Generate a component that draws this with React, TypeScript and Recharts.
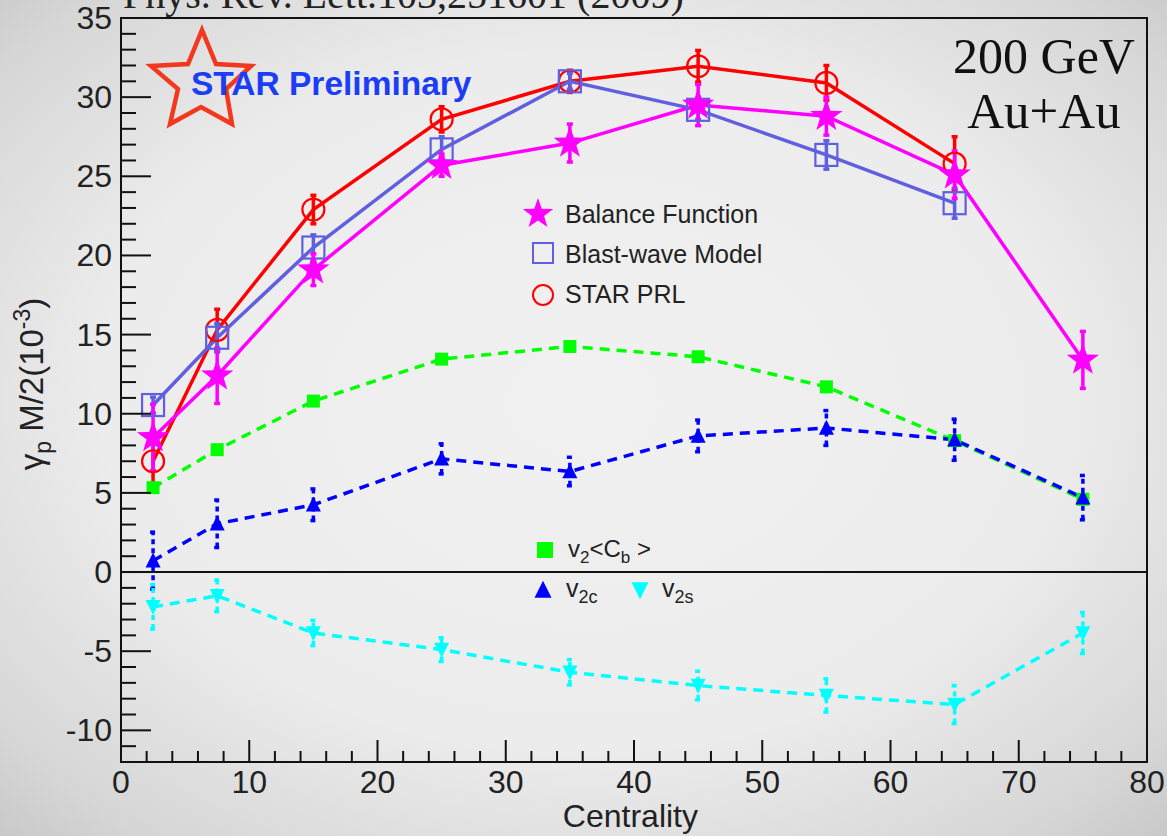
import React from 'react';
import {
  ComposedChart,
  Line,
  XAxis,
  YAxis,
  ErrorBar,
  ReferenceLine,
  ReferenceArea,
} from 'recharts';

// ---------------- data ----------------
const centrality = [2.5, 7.5, 15, 25, 35, 45, 55, 65, 75];

const starPrl = [7.0, 15.3, 22.9, 28.6, 31.0, 31.95, 30.9, 25.8];
const starPrlErr = [1.8, 1.3, 0.9, 0.8, 0.7, 1.0, 1.1, 1.7];

const blastWave = [10.55, 14.8, 20.5, 26.7, 31.0, 29.2, 26.35, 23.3];
const blastWaveErr = [0.5, 0.9, 0.8, 0.8, 0.5, 0.6, 0.9, 0.95];

const balanceFn = [8.5, 12.4, 19.1, 25.7, 27.1, 29.5, 28.8, 25.1, 13.4];
const balanceFnErr = [2.1, 1.75, 1.0, 0.7, 1.2, 1.3, 1.2, 1.5, 1.8];

const v2Cb = [5.33, 7.73, 10.8, 13.45, 14.25, 13.6, 11.7, 8.3, 4.6];

const v2c = [0.72, 3.05, 4.25, 7.15, 6.35, 8.6, 9.1, 8.36, 4.7];
const v2cErr = [1.8, 1.5, 1.0, 0.95, 0.9, 1.0, 1.1, 1.3, 1.4];

const v2s = [-2.2, -1.5, -3.85, -4.9, -6.33, -7.17, -7.8, -8.37, -3.85];
const v2sErr = [1.4, 1.0, 0.8, 0.75, 0.8, 0.9, 1.05, 1.2, 1.3];

const xTicks = Array.from({ length: 41 }, (_, i) => i * 2); // 0..80 step 2
const yTicks = Array.from({ length: 48 }, (_, i) => i - 12); // -12..35 step 1

const xDomain: [number, number] = [0, 80];
const yDomain: [number, number] = [-12, 35];

const mk = (ys: number[], es?: number[]) =>
  ys.map((y, i) => ({ x: centrality[i], y, e: es ? es[i] : 0 }));

const dPrl = mk(starPrl, starPrlErr);
const dBlast = mk(blastWave, blastWaveErr);
const dBal = mk(balanceFn, balanceFnErr);
const dCb = mk(v2Cb);
const dV2c = mk(v2c, v2cErr);
const dV2s = mk(v2s, v2sErr);

// ---------------- styles ----------------
const SANS = "'Liberation Sans', Arial, Helvetica, sans-serif";
const SERIF = "'Liberation Serif', 'Times New Roman', serif";
const TXT = '#222';

const C_RED = '#ff0000';
const C_BLAST = '#5f5fe0';
const C_MAG = '#ff00ff';
const C_GREEN = '#00ff00';
const C_BLUE = '#0000ff';
const C_CYAN = '#00ffff';

const LW = 3.5;

const starPath = (cx: number, cy: number, ro: number, ri: number) => {
  let d = '';
  for (let k = 0; k < 10; k++) {
    const r = k % 2 === 0 ? ro : ri;
    const a = -Math.PI / 2 + (k * Math.PI) / 5;
    d += (k === 0 ? 'M' : 'L') + (cx + r * Math.cos(a)).toFixed(2) + ',' + (cy + r * Math.sin(a)).toFixed(2);
  }
  return d + 'Z';
};

// ---------------- markers ----------------
const StarMark = ({ cx, cy, size = 17 }: any) => (
  <path d={starPath(cx, cy, size, size * 0.4)} fill={C_MAG} />
);
const CircleMark = ({ cx, cy }: any) => (
  <circle cx={cx} cy={cy} r={11} fill="none" stroke={C_RED} strokeWidth={2.2} />
);
const OpenSquareMark = ({ cx, cy }: any) => (
  <rect x={cx - 11} y={cy - 11} width={22} height={22} fill="none" stroke={C_BLAST} strokeWidth={2.2} />
);
const FilledSquareMark = ({ cx, cy, s = 13 }: any) => (
  <rect x={cx - s / 2} y={cy - s / 2} width={s} height={s} fill={C_GREEN} />
);
const UpTriMark = ({ cx, cy, s = 15 }: any) => (
  <path d={`M${cx},${cy - s * 0.55}L${cx + s / 2},${cy + s * 0.45}L${cx - s / 2},${cy + s * 0.45}Z`} fill={C_BLUE} />
);
const DownTriMark = ({ cx, cy, s = 15 }: any) => (
  <path d={`M${cx},${cy + s * 0.55}L${cx + s / 2},${cy - s * 0.45}L${cx - s / 2},${cy - s * 0.45}Z`} fill={C_CYAN} />
);

const dotOf = (Comp: any) => (p: any) => {
  if (p == null || p.cx == null || p.cy == null) return <g key={`n-${p?.index}`} />;
  return (
    <g key={`d-${p.index}`}>
      <Comp cx={p.cx} cy={p.cy} />
    </g>
  );
};

// ---------------- ticks ----------------
const XTick = (props: any) => {
  const { x, y, payload } = props;
  const v = payload.value;
  const major = v % 10 === 0;
  return (
    <g>
      <line x1={x} x2={x} y1={y} y2={y - (major ? 22 : 11)} stroke="#111" strokeWidth={2} />
      {major && (
        <text x={x} y={y + 31} textAnchor="middle" fontSize={32} fill={TXT} fontFamily={SANS}>
          {v}
        </text>
      )}
    </g>
  );
};

const YTick = (props: any) => {
  const { x, y, payload } = props;
  const v = payload.value;
  const major = v % 5 === 0;
  return (
    <g>
      <line x1={x} x2={x + (major ? 30 : 15)} y1={y} y2={y} stroke="#111" strokeWidth={2} />
      {major && (
        <text x={x - 9} y={y + 11} textAnchor="end" fontSize={32} fill={TXT} fontFamily={SANS}>
          {v}
        </text>
      )}
    </g>
  );
};

// ---------------- overlay ----------------
const Overlay = () => (
  <svg
    width={1167}
    height={836}
    style={{ position: 'absolute', left: 0, top: 0, pointerEvents: 'none' }}
  >
    {/* citation, cut off at the top as in the original */}
    <text x={123} y={8} fontSize={40} fill={TXT} fontFamily={SERIF}>
      Phys. Rev. Lett.103,251601 (2009)
    </text>

    {/* STAR logo */}
    <path
      d="M202,30 L216,64 L251,66 L226,89 L232,124 L201,107 L170,124 L178,89 L151,66 L188,64 Z"
      fill="none"
      stroke="#f2391d"
      strokeWidth={4.5}
      strokeLinejoin="miter"
    />
    <text x={191} y={95} fontSize={33.5} fontWeight="bold" fill="#1b3df5" fontFamily={SANS}>
      STAR Preliminary
    </text>

    {/* energy / system */}
    <text x={1044} y={73} textAnchor="middle" fontSize={50} fill="#111" fontFamily={SERIF}>
      200 GeV
    </text>
    <text x={1044} y={128} textAnchor="middle" fontSize={51} fill="#111" fontFamily={SERIF}>
      Au+Au
    </text>

    {/* upper legend */}
    <StarMark cx={538} cy={214} size={16} />
    <text x={565} y={223} fontSize={25} fill={TXT} fontFamily={SANS}>Balance Function</text>
    <rect x={533} y={243} width={20} height={20} fill="none" stroke={C_BLAST} strokeWidth={2} />
    <text x={565} y={263} fontSize={25} fill={TXT} fontFamily={SANS}>Blast-wave Model</text>
    <circle cx={543} cy={295} r={10} fill="none" stroke={C_RED} strokeWidth={2} />
    <text x={565} y={303} fontSize={25} fill={TXT} fontFamily={SANS}>STAR PRL</text>

    {/* lower legend */}
    <rect x={537} y={542} width={16} height={16} fill={C_GREEN} />
    <text x={568} y={557} fontSize={24} fill={TXT} fontFamily={SANS}>
      v<tspan fontSize={17} dy={6}>2</tspan>
      <tspan dy={-6}>&lt;C</tspan>
      <tspan fontSize={17} dy={6}>b</tspan>
      <tspan dy={-6}> &gt;</tspan>
    </text>
    <UpTriMark cx={543} cy={590} s={17} />
    <text x={566} y={597} fontSize={25} fill={TXT} fontFamily={SANS}>
      v<tspan fontSize={18} dy={6}>2c</tspan>
    </text>
    <DownTriMark cx={640} cy={590} s={17} />
    <text x={662} y={597} fontSize={25} fill={TXT} fontFamily={SANS}>
      v<tspan fontSize={18} dy={6}>2s</tspan>
    </text>

    {/* axis titles */}
    <text x={698} y={827} textAnchor="end" fontSize={32} fill={TXT} fontFamily={SANS}>
      Centrality
    </text>
    <text
      x={43}
      y={384}
      textAnchor="middle"
      fontSize={33}
      fill={TXT}
      fontFamily={SANS}
      transform="rotate(-90 43 384)"
    >
      γ<tspan fontSize={23} dy={8}>p</tspan>
      <tspan dy={-8}> M/2(10</tspan>
      <tspan fontSize={23} dy={-13}>-3</tspan>
      <tspan dy={13}>)</tspan>
    </text>
  </svg>
);

// ---------------- chart ----------------
export default function App() {
  return (
    <div
      style={{
        position: 'absolute',
        left: 0,
        top: 0,
        width: 1167,
        height: 836,
        overflow: 'hidden',
        background:
          'radial-gradient(ellipse 75% 75% at 50% 48%, #f1f1f1 0%, #ececec 55%, #d6d6d6 85%, #c4c4c4 100%)',
      }}
    >
      <ComposedChart
        width={1167}
        height={836}
        margin={{ top: 18, right: 20, bottom: 0, left: 0 }}
      >
        <XAxis
          dataKey="x"
          type="number"
          domain={xDomain}
          ticks={xTicks}
          interval={0}
          tick={<XTick />}
          tickLine={false}
          tickSize={0}
          tickMargin={0}
          height={74}
          axisLine={{ stroke: '#111', strokeWidth: 2 }}
          allowDataOverflow
        />
        <YAxis
          type="number"
          domain={yDomain}
          ticks={yTicks}
          interval={0}
          tick={<YTick />}
          tickLine={false}
          tickSize={0}
          tickMargin={0}
          width={121}
          axisLine={{ stroke: '#111', strokeWidth: 2 }}
          allowDataOverflow
        />
        <ReferenceArea
          x1={0}
          x2={80}
          y1={-12}
          y2={35}
          fill="none"
          fillOpacity={0}
          stroke="#111"
          strokeWidth={2}
          strokeOpacity={1}
        />
        <ReferenceLine y={0} stroke="#111" strokeWidth={2} />

        <Line
          data={dCb}
          dataKey="y"
          type="linear"
          stroke={C_GREEN}
          strokeWidth={LW}
          strokeDasharray="10 7"
          dot={dotOf(FilledSquareMark)}
          activeDot={false}
          isAnimationActive={false}
        />
        <Line
          data={dV2c}
          dataKey="y"
          type="linear"
          stroke={C_BLUE}
          strokeWidth={LW}
          strokeDasharray="10 7"
          dot={dotOf(UpTriMark)}
          activeDot={false}
          isAnimationActive={false}
        >
          <ErrorBar dataKey="e" width={3} stroke={C_BLUE} strokeWidth={3.5} strokeDasharray="5 4" isAnimationActive={false} />
        </Line>
        <Line
          data={dV2s}
          dataKey="y"
          type="linear"
          stroke={C_CYAN}
          strokeWidth={LW}
          strokeDasharray="10 7"
          dot={dotOf(DownTriMark)}
          activeDot={false}
          isAnimationActive={false}
        >
          <ErrorBar dataKey="e" width={3} stroke={C_CYAN} strokeWidth={3.5} strokeDasharray="5 4" isAnimationActive={false} />
        </Line>
        <Line
          data={dPrl}
          dataKey="y"
          type="linear"
          stroke={C_RED}
          strokeWidth={LW}
          dot={dotOf(CircleMark)}
          activeDot={false}
          isAnimationActive={false}
        >
          <ErrorBar dataKey="e" width={3} stroke={C_RED} strokeWidth={3.5} isAnimationActive={false} />
        </Line>
        <Line
          data={dBlast}
          dataKey="y"
          type="linear"
          stroke={C_BLAST}
          strokeWidth={LW}
          dot={dotOf(OpenSquareMark)}
          activeDot={false}
          isAnimationActive={false}
        >
          <ErrorBar dataKey="e" width={3} stroke={C_BLAST} strokeWidth={3.5} isAnimationActive={false} />
        </Line>
        <Line
          data={dBal}
          dataKey="y"
          type="linear"
          stroke={C_MAG}
          strokeWidth={LW}
          dot={dotOf(StarMark)}
          activeDot={false}
          isAnimationActive={false}
        >
          <ErrorBar dataKey="e" width={3} stroke={C_MAG} strokeWidth={3.5} isAnimationActive={false} />
        </Line>
      </ComposedChart>
      <Overlay />
    </div>
  );
}
